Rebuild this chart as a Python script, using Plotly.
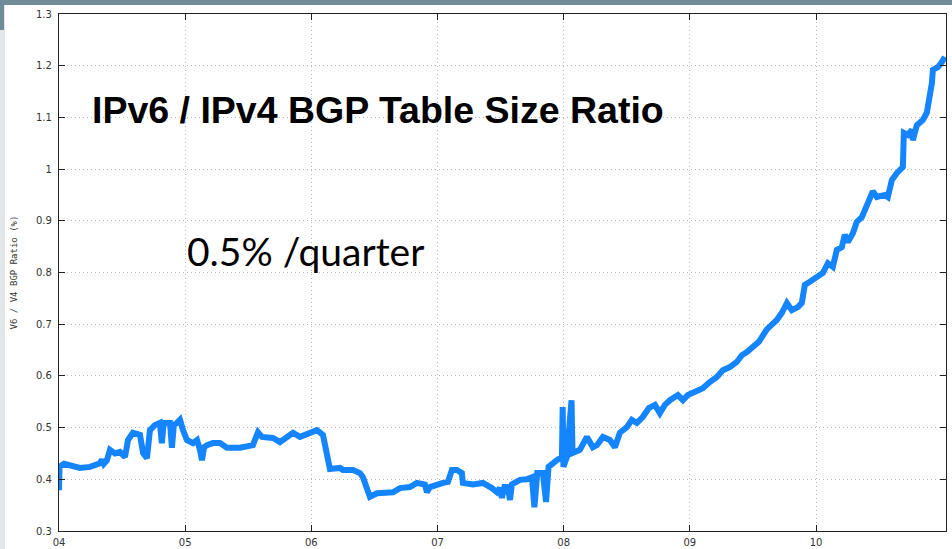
import plotly.graph_objects as go

years = [
    2004.000, 2004.004, 2004.040, 2004.087, 2004.166, 2004.246, 2004.325, 2004.340, 2004.355, 2004.380,
    2004.404, 2004.444, 2004.483, 2004.523, 2004.547, 2004.586, 2004.642, 2004.666, 2004.697, 2004.721,
    2004.761, 2004.800, 2004.815, 2004.830, 2004.880, 2004.895, 2004.910, 2004.935, 2004.959, 2004.983,
    2005.014, 2005.062, 2005.094, 2005.117, 2005.133, 2005.150, 2005.173, 2005.220, 2005.276, 2005.331,
    2005.434, 2005.537, 2005.577, 2005.609, 2005.696, 2005.751, 2005.854, 2005.910, 2005.989, 2006.044,
    2006.092, 2006.124, 2006.147, 2006.227, 2006.250, 2006.330, 2006.385, 2006.409, 2006.441, 2006.464,
    2006.520, 2006.599, 2006.647, 2006.702, 2006.781, 2006.837, 2006.900, 2006.916, 2006.940, 2007.043,
    2007.082, 2007.114, 2007.154, 2007.193, 2007.201, 2007.281, 2007.360, 2007.431, 2007.471, 2007.494,
    2007.510, 2007.530, 2007.558, 2007.574, 2007.590, 2007.653, 2007.708, 2007.748, 2007.768, 2007.790,
    2007.835, 2007.860, 2007.880, 2007.946, 2007.986, 2007.992, 2007.998, 2008.025, 2008.062, 2008.070,
    2008.128, 2008.184, 2008.231, 2008.263, 2008.287, 2008.311, 2008.366, 2008.406, 2008.445, 2008.501,
    2008.540, 2008.580, 2008.628, 2008.675, 2008.723, 2008.762, 2008.802, 2008.842, 2008.905, 2008.945,
    2008.984, 2009.055, 2009.103, 2009.158, 2009.214, 2009.261, 2009.317, 2009.372, 2009.412, 2009.452,
    2009.499, 2009.547, 2009.610, 2009.689, 2009.729, 2009.769, 2009.808, 2009.856, 2009.887, 2009.911,
    2009.951, 2010.006, 2010.054, 2010.094, 2010.133, 2010.165, 2010.204, 2010.228, 2010.252, 2010.292,
    2010.323, 2010.363, 2010.403, 2010.450, 2010.482, 2010.545, 2010.569, 2010.601, 2010.640, 2010.688,
    2010.696, 2010.727, 2010.759, 2010.767, 2010.799, 2010.846, 2010.878, 2010.902, 2010.918, 2010.926,
    2010.965, 2010.997, 2011.021,
]

ratio = [
    0.379, 0.424, 0.430, 0.428, 0.422, 0.424, 0.431, 0.438, 0.430, 0.437,
    0.457, 0.450, 0.453, 0.443, 0.476, 0.490, 0.486, 0.451, 0.441, 0.495,
    0.505, 0.509, 0.470, 0.509, 0.509, 0.461, 0.505, 0.509, 0.515, 0.495,
    0.476, 0.470, 0.476, 0.457, 0.437, 0.462, 0.466, 0.470, 0.470, 0.461,
    0.461, 0.466, 0.491, 0.482, 0.480, 0.472, 0.490, 0.482, 0.490, 0.495,
    0.486, 0.437, 0.420, 0.422, 0.418, 0.418, 0.412, 0.404, 0.385, 0.366,
    0.373, 0.373, 0.375, 0.383, 0.385, 0.393, 0.390, 0.375, 0.385, 0.393,
    0.395, 0.418, 0.418, 0.412, 0.393, 0.390, 0.393, 0.383, 0.375, 0.383,
    0.364, 0.385, 0.385, 0.360, 0.390, 0.399, 0.400, 0.404, 0.346, 0.412,
    0.412, 0.356, 0.424, 0.437, 0.443, 0.540, 0.424, 0.443, 0.553, 0.451,
    0.457, 0.482, 0.462, 0.466, 0.476, 0.482, 0.476, 0.462, 0.490, 0.501,
    0.515, 0.509, 0.521, 0.538, 0.544, 0.528, 0.544, 0.553, 0.563, 0.553,
    0.563, 0.569, 0.576, 0.588, 0.598, 0.611, 0.617, 0.627, 0.640, 0.646,
    0.656, 0.666, 0.690, 0.708, 0.722, 0.741, 0.727, 0.733, 0.741, 0.776,
    0.782, 0.791, 0.799, 0.818, 0.811, 0.844, 0.849, 0.873, 0.859, 0.876,
    0.898, 0.907, 0.927, 0.957, 0.946, 0.950, 0.946, 0.979, 0.992, 1.004,
    1.070, 1.066, 1.076, 1.056, 1.085, 1.095, 1.109, 1.139, 1.166, 1.192,
    1.197, 1.207, 1.217,
]

y_ticks = [0.3, 0.4, 0.5, 0.6, 0.7, 0.8, 0.9, 1.0, 1.1, 1.2, 1.3]
y_labels = ["0.3", "0.4", "0.5", "0.6", "0.7", "0.8", "0.9", "1", "1.1", "1.2", "1.3"]
x_ticks = [2004, 2005, 2006, 2007, 2008, 2009, 2010]
x_labels = ["04", "05", "06", "07", "08", "09", "10"]

title_text = "IPv6 / IPv4 BGP Table Size Ratio"
rate_text = "0.5% /quarter"
y_title = "V6 / V4 BGP Ratio (%)"

W, H = 952, 549
L, R, T, B = 59, 6, 14, 18
PW, PH = W - L - R, H - T - B

def px(x):
    return (x - L) / PW

def py(y):
    return (H - B - y) / PH

fig = go.Figure()
fig.add_trace(go.Scatter(
    x=years, y=ratio, mode="lines",
    line=dict(color="#1484ff", width=6),
    hoverinfo="skip", showlegend=False,
))

axis_common = dict(
    showline=True, linecolor="#222222", linewidth=1.2, mirror="allticks",
    ticks="inside", ticklen=6, tickcolor="#222222",
    showgrid=True, gridcolor="#b8b8b8", griddash="1px,3px", gridwidth=1,
    zeroline=False, automargin=False,
    tickfont=dict(family="DejaVu Sans", size=10, color="#333333"),
)

fig.update_xaxes(range=[2004, 2011.03], tickvals=x_ticks, ticktext=x_labels,
                 ticklabelstandoff=2, **axis_common)
fig.update_yaxes(range=[0.3, 1.3], tickvals=y_ticks, ticktext=y_labels,
                 ticklabelstandoff=4,
                 title=dict(text=y_title, font=dict(family="DejaVu Sans Mono", size=9, color="#333333"),
                            standoff=16),
                 **axis_common)

fig.add_annotation(
    x=px(378), y=py(110), xref="paper", yref="paper",
    text="<b>" + title_text + "</b>", showarrow=False,
    font=dict(family="Liberation Sans", size=37.5, color="#000000"),
    xanchor="center", yanchor="middle",
)
fig.add_annotation(
    x=px(185), y=py(251), xref="paper", yref="paper",
    text=rate_text, showarrow=False,
    font=dict(family="Lato", size=39, color="#000000"),
    xanchor="left", yanchor="middle",
)

# slide decoration: top band and left edge strip
fig.add_shape(type="rect", xref="paper", yref="paper",
              x0=px(0), x1=px(W), y0=py(5), y1=py(0),
              fillcolor="#6f8c98", line=dict(width=0), layer="above")
fig.add_shape(type="rect", xref="paper", yref="paper",
              x0=px(0), x1=px(5), y0=py(H), y1=py(5),
              fillcolor="#e3e7e9", line=dict(width=0), layer="above")
fig.add_shape(type="rect", xref="paper", yref="paper",
              x0=px(0), x1=px(4), y0=py(30), y1=py(5),
              fillcolor="#6f8c98", line=dict(width=0), layer="above")

fig.update_layout(
    width=W, height=H,
    margin=dict(l=L, r=R, t=T, b=B, autoexpand=False),
    paper_bgcolor="#ffffff", plot_bgcolor="#ffffff",
    showlegend=False,
)

fig.write_html("out.html",
               config={"displayModeBar": False},
               post_script="document.body.style.margin='0';document.body.style.overflow='hidden';")
